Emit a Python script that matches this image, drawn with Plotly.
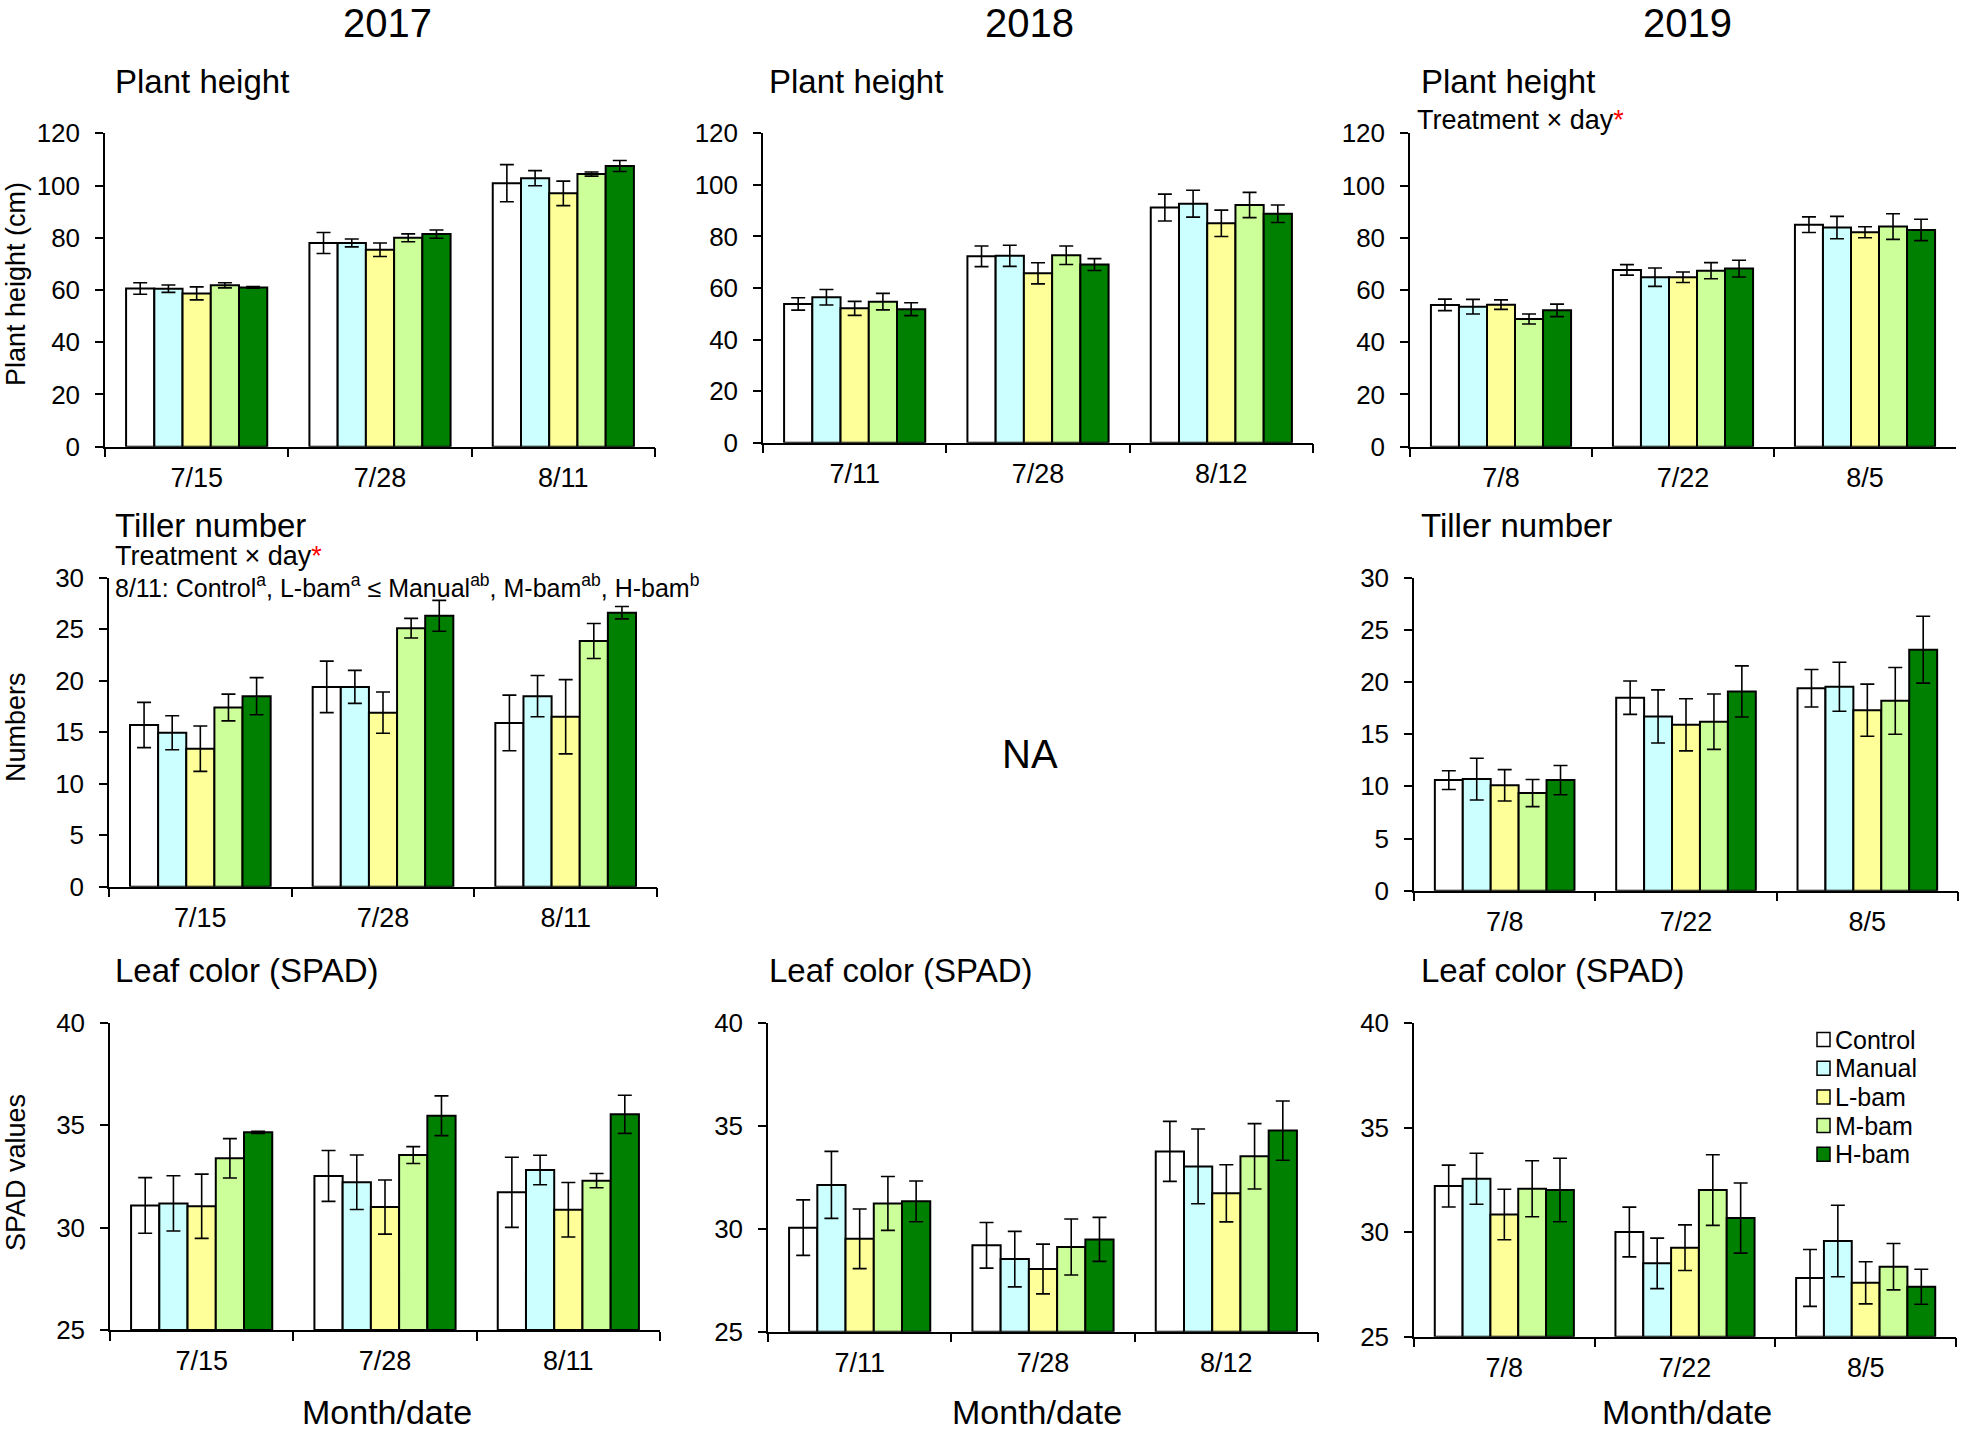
import plotly.graph_objects as go

W, H = 1961, 1432
FONT = "Liberation Sans, Arial, sans-serif"

SERIES = ["Control", "Manual", "L-bam", "M-bam", "H-bam"]
COLORS = ["#FFFFFF", "#CCFFFF", "#FFFF99", "#CCFF99", "#008000"]

dates_2017 = ["7/15", "7/28", "8/11"]
dates_2018 = ["7/11", "7/28", "8/12"]
dates_2019 = ["7/8", "7/22", "8/5"]

# Plant height (cm) - rows: Control, Manual, L-bam, M-bam, H-bam ; cols: dates
ph_2017_mean = [[60.6, 78.0, 100.9], [60.5, 78.0, 102.8], [58.7, 75.4, 97.0], [61.8, 80.0, 104.4], [61.0, 81.4, 107.5]]
ph_2017_err = [[2.2, 4.0, 7.1], [1.4, 1.5, 2.9], [2.5, 2.6, 4.7], [1.0, 1.5, 0.8], [0.3, 1.6, 2.1]]
ph_2018_mean = [[53.8, 72.3, 91.2], [56.4, 72.5, 92.7], [52.1, 65.7, 85.1], [54.7, 72.7, 92.2], [51.8, 69.1, 88.8]]
ph_2018_err = [[2.4, 4.0, 5.2], [3.0, 4.1, 5.2], [2.7, 4.1, 5.1], [3.2, 3.6, 4.9], [2.5, 2.3, 3.4]]
ph_2019_mean = [[54.3, 67.7, 85.0], [53.6, 64.9, 83.9], [54.4, 64.9, 82.1], [48.9, 67.4, 84.3], [52.2, 68.2, 83.0]]
ph_2019_err = [[2.2, 2.0, 3.0], [2.8, 3.5, 4.3], [1.8, 2.0, 2.1], [1.9, 3.1, 4.9], [2.4, 3.2, 4.1]]

# Tiller number
tn_2017_mean = [[15.7, 19.4, 15.9], [14.95, 19.4, 18.5], [13.4, 16.9, 16.5], [17.4, 25.1, 23.85], [18.5, 26.3, 26.6]]
tn_2017_err = [[2.2, 2.5, 2.7], [1.65, 1.6, 2.0], [2.2, 2.0, 3.6], [1.3, 0.95, 1.7], [1.8, 1.5, 0.6]]
tn_2019_mean = [[10.6, 18.5, 19.4], [10.7, 16.7, 19.55], [10.1, 15.9, 17.3], [9.36, 16.2, 18.2], [10.6, 19.1, 23.1]]
tn_2019_err = [[0.9, 1.6, 1.8], [2.0, 2.55, 2.35], [1.5, 2.5, 2.5], [1.3, 2.65, 3.2], [1.4, 2.45, 3.2]]

# Leaf color (SPAD)
sp_2017_mean = [[31.08, 32.52, 31.72], [31.18, 32.21, 32.81], [31.04, 31.0, 30.87], [33.38, 33.54, 32.29], [34.65, 35.46, 35.53]]
sp_2017_err = [[1.36, 1.24, 1.71], [1.35, 1.33, 0.72], [1.57, 1.32, 1.33], [0.96, 0.41, 0.35], [0.05, 0.97, 0.93]]
sp_2018_mean = [[30.06, 29.2, 33.77], [32.14, 28.53, 33.04], [29.52, 28.05, 31.73], [31.24, 29.12, 33.53], [31.34, 29.49, 34.78]]
sp_2018_err = [[1.35, 1.11, 1.46], [1.63, 1.35, 1.82], [1.45, 1.21, 1.39], [1.31, 1.36, 1.59], [0.99, 1.07, 1.44]]
sp_2019_mean = [[32.21, 30.01, 27.81], [32.56, 28.51, 29.58], [30.85, 29.26, 27.58], [32.08, 32.02, 28.35], [32.02, 30.68, 27.39]]
sp_2019_err = [[1.0, 1.19, 1.36], [1.22, 1.21, 1.71], [1.21, 1.09, 1.01], [1.34, 1.69, 1.11], [1.52, 1.68, 0.84]]

YEARS = ["2017", "2018", "2019"]

# panel: dates, means, errs, y range, dtick, plot-area box in pixels (x0, x1, ytop, ybottom)
panels = [
    (dates_2017, ph_2017_mean, ph_2017_err, [0, 120], 20, (105, 655, 133.3, 446.7)),
    (dates_2018, ph_2018_mean, ph_2018_err, [0, 120], 20, (763, 1313, 133.3, 442.7)),
    (dates_2019, ph_2019_mean, ph_2019_err, [0, 120], 20, (1410, 1956, 133.3, 446.7)),
    (dates_2017, tn_2017_mean, tn_2017_err, [0, 30], 5, (109, 657, 577.7, 886.7)),
    (dates_2019, tn_2019_mean, tn_2019_err, [0, 30], 5, (1414, 1958, 577.7, 890.7)),
    (dates_2017, sp_2017_mean, sp_2017_err, [25, 40], 5, (110, 660, 1022.7, 1330)),
    (dates_2018, sp_2018_mean, sp_2018_err, [25, 40], 5, (768, 1318, 1023.3, 1331.7)),
    (dates_2019, sp_2019_mean, sp_2019_err, [25, 40], 5, (1414, 1956, 1023.3, 1336.7)),
]

fig = go.Figure()
layout = {}
for p, (dates, means, errs, yr, dt, box) in enumerate(panels):
    k = "" if p == 0 else str(p + 1)
    x0, x1, yt, yb = box
    for s, name in enumerate(SERIES):
        fig.add_trace(go.Bar(
            x=dates, y=[m - yr[0] for m in means[s]], base=yr[0], name=name,
            xaxis="x" + k, yaxis="y" + k,
            marker=dict(color=COLORS[s], line=dict(color="black", width=2)),
            error_y=dict(type="data", array=errs[s], visible=True, color="black",
                         thickness=1.6, width=7),
            showlegend=False,
        ))
    layout["xaxis" + k] = dict(
        domain=[x0 / W, x1 / W], anchor="y" + k, type="category", automargin=False,
        showline=True, linecolor="black", linewidth=1.5, ticks="outside",
        tickson="boundaries", ticklen=9, tickwidth=1.5, tickcolor="black",
        showgrid=False, zeroline=False, ticklabelstandoff=6,
        tickfont=dict(family=FONT, size=27, color="black"),
    )
    layout["yaxis" + k] = dict(
        domain=[1 - yb / H, 1 - yt / H], anchor="x" + k, range=yr, dtick=dt,
        automargin=False,
        showline=True, linecolor="black", linewidth=1.5, ticks="outside",
        ticklen=8, tickwidth=1.5, tickcolor="black", showgrid=False,
        zeroline=False, ticklabelstandoff=10,
        tickfont=dict(family=FONT, size=26, color="black"),
    )

ann = []


def text(x, y, t, size, xa="left", angle=0, ya="middle"):
    ann.append(dict(x=x / W, y=1 - y / H, xref="paper", yref="paper", text=t,
                    showarrow=False, xanchor=xa, yanchor=ya, textangle=angle,
                    borderpad=0,
                    font=dict(family=FONT, size=size, color="black")))


# Year headers
for yv, xc in zip(YEARS, [387, 1029, 1687]):
    text(xc, 0, yv, 40, "center", ya="top")
# Panel titles
for xl in [114, 768, 1420]:
    text(xl, 82, "Plant height", 33)
    text(xl, 970, "Leaf color (SPAD)", 33)
text(114, 526, "Tiller number", 33)
text(1420, 526, "Tiller number", 33)
star = "<span style='color:red'>*</span>"
text(1416, 120, "Treatment × day" + star, 27)
text(114, 556, "Treatment × day" + star, 27)
text(114, 586, "8/11: Control<sup>a</sup>, L-bam<sup>a</sup> ≤ Manual<sup>ab</sup>, "
     "M-bam<sup>ab</sup>, H-bam<sup>b</sup>", 25)
# NA
text(1030, 754, "NA", 40, "center")
# Y axis titles
text(0, 284, "Plant height (cm)", 27, "left", -90)
text(0, 727, "Numbers", 27, "left", -90)
text(0, 1173, "SPAD values", 27, "left", -90)
# X axis titles
for xc in [387, 1037, 1687]:
    text(xc, 1432, "Month/date", 34, "center", ya="bottom")

# Legend (drawn manually inside the 2019 SPAD panel)
shapes = []
for i, (name, col) in enumerate(zip(SERIES, COLORS)):
    yc = 1039.5 + i * 28.7
    shapes.append(dict(type="rect", xref="paper", yref="paper",
                       x0=1817 / W, x1=1830 / W, y0=1 - (yc + 7) / H, y1=1 - (yc - 7) / H,
                       fillcolor=col, line=dict(color="black", width=1.5)))
    text(1834, yc, name, 25)

fig.update_layout(
    width=W, height=H, margin=dict(l=0, r=0, t=0, b=0, pad=0, autoexpand=False),
    paper_bgcolor="white", plot_bgcolor="white",
    barmode="group", bargap=0.23, bargroupgap=0,
    showlegend=False, annotations=ann, shapes=shapes,
    font=dict(family=FONT, color="black"),
    **layout,
)
fig.write_html("out.html", config={"displayModeBar": False},
               post_script="document.body.style.margin='0px';document.body.style.padding='0px';"
                           "document.body.style.overflow='hidden';")
